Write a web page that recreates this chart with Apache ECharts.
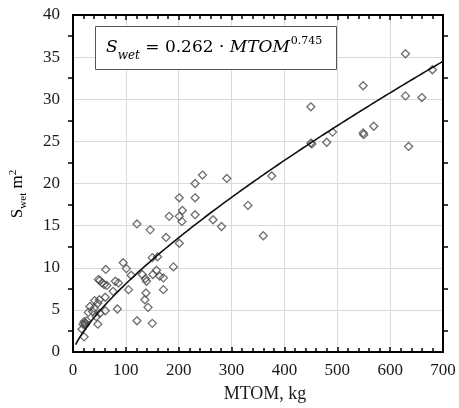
<!DOCTYPE html>
<html>
<head>
<meta charset="utf-8">
<script src="https://cdn.jsdelivr.net/npm/echarts@6/dist/echarts.min.js"></script>
<style>
  html, body { margin: 0; padding: 0; background: #fff; }
  #chart { width: 459px; height: 408px; }
</style>
</head>
<body>
<div id="chart"></div>
<script>
// Maximum take-off mass (kg) of each aircraft
const mtom = [
  17, 21, 19, 21, 24, 26, 23, 29, 32, 37,
  40, 44, 47, 41, 47, 50, 51, 61, 61, 48,
  51, 55, 59, 62, 64, 76, 80, 86, 84, 95,
  101, 110, 105, 121, 121, 131, 137, 139, 138, 136,
  142, 146, 150, 150, 160, 151, 158, 164, 171, 171,
  176, 182, 190, 201, 201, 207, 206, 201, 231, 231,
  245, 231, 265, 281, 291, 331, 360, 376, 450, 450,
  452, 480, 491, 549, 549, 550, 569, 629, 629, 635,
  660, 680
];
// Wetted area (m²) of each aircraft
const swet = [
  2.7, 1.8, 3.3, 3.6, 3.4, 3.7, 3.2, 4.7, 5.4, 4.8,
  5.2, 4.2, 3.3, 6.1, 5.8, 6.2, 4.6, 4.9, 6.5, 8.6,
  8.5, 8.2, 8.0, 9.8, 7.9, 7.2, 8.4, 8.2, 5.1, 10.6,
  9.9, 9.1, 7.4, 3.7, 15.2, 9.2, 8.7, 8.4, 7.0, 6.2,
  5.3, 14.5, 3.4, 11.2, 11.3, 9.2, 9.7, 9.0, 8.8, 7.4,
  13.6, 16.1, 10.1, 12.9, 16.1, 16.8, 15.5, 18.3, 18.3, 20.0,
  21.0, 16.3, 15.7, 14.9, 20.6, 17.4, 13.8, 20.9, 29.1, 24.8,
  24.7, 24.9, 26.1, 31.6, 26.0, 25.8, 26.8, 35.4, 30.4, 24.4,
  30.2, 33.5
];

// Power-law fit: Swet = a · MTOM^b
const fitA = 0.262;
const fitB = 0.745;
const fitStart = 5;
const fitEnd = 700;
const fitStep = 5;

// Axis ranges
const xMin = 0, xMax = 700, xStep = 100;
const yMin = 0, yMax = 40, yStep = 5;

const points = mtom.map((m, i) => [m, swet[i]]);
const fitLine = [];
for (let m = fitStart; m <= fitEnd; m += fitStep) {
  fitLine.push([m, fitA * Math.pow(m, fitB)]);
}

const serif = 'Liberation Serif';
const mathFont = 'DejaVu Serif';
const ink = '#1a1a1a';

const chart = echarts.init(document.getElementById('chart'), null, { renderer: 'canvas' });

const tickCommon = {
  axisLine: { show: true, onZero: false, lineStyle: { color: '#000', width: 2 } },
  axisTick: { show: true, inside: true, length: 5, lineStyle: { color: '#000', width: 1.5 } },
};

chart.setOption({
  animation: false,
  backgroundColor: '#fff',
  grid: { left: 73, right: 16, top: 15, bottom: 56, containLabel: false },
  xAxis: [
    {
      type: 'value', min: xMin, max: xMax, interval: xStep, position: 'bottom',
      ...tickCommon,
      minorTick: { show: true, splitNumber: 5, length: 4, lineStyle: { color: '#000', width: 1.5 } },
      axisLabel: { color: ink, fontFamily: serif, fontSize: 17, margin: 10 },
      splitLine: { show: true, lineStyle: { color: '#dadada', width: 1 } }
    },
    {
      type: 'value', min: xMin, max: xMax, interval: xStep, position: 'top',
      ...tickCommon,
      minorTick: { show: true, splitNumber: 5, length: 4, lineStyle: { color: '#000', width: 1.5 } },
      axisLabel: { show: false },
      splitLine: { show: false }
    }
  ],
  yAxis: [
    {
      type: 'value', min: yMin, max: yMax, interval: yStep, position: 'left',
      ...tickCommon,
      axisTick: { show: false },
      minorTick: { show: true, splitNumber: 2, length: 5, lineStyle: { color: '#000', width: 1.5 } },
      axisLabel: { color: ink, fontFamily: serif, fontSize: 17, margin: 13 },
      splitLine: { show: true, lineStyle: { color: '#dadada', width: 1 } }
    },
    {
      type: 'value', min: yMin, max: yMax, interval: yStep, position: 'right',
      ...tickCommon,
      axisTick: { show: false },
      minorTick: { show: true, splitNumber: 2, length: 5, lineStyle: { color: '#000', width: 1.5 } },
      axisLabel: { show: false },
      splitLine: { show: false }
    }
  ],
  series: [
    {
      type: 'scatter',
      data: points,
      symbol: 'diamond',
      symbolSize: 8,
      itemStyle: { color: 'rgba(255,255,255,0)', borderColor: '#4a4a4a', borderWidth: 1.3 },
      z: 3
    },
    {
      type: 'line',
      data: fitLine,
      showSymbol: false,
      symbol: 'none',
      lineStyle: { color: '#111', width: 1.6 },
      z: 4
    }
  ],
  graphic: [
    {
      type: 'rect',
      shape: { x: 95.5, y: 26.5, width: 241, height: 43 },
      style: { fill: '#fff', stroke: '#555', lineWidth: 1 },
      z: 10
    },
    {
      type: 'text',
      x: 106, y: 48,
      z: 11,
      style: {
        text: '{i|S}{isub|wet}{n| = 0.262 · }{i|MTOM}{sup|0.745}',
        verticalAlign: 'middle',
        rich: {
          i: { fontFamily: mathFont, fontStyle: 'italic', fontSize: 17, color: '#111', lineHeight: 24, verticalAlign: 'middle' },
          n: { fontFamily: mathFont, fontSize: 17, color: '#111', lineHeight: 24, verticalAlign: 'middle' },
          isub: { fontFamily: mathFont, fontStyle: 'italic', fontSize: 12, color: '#111', lineHeight: 12, verticalAlign: 'bottom', padding: [0, 0, -2, 0] },
          sup: { fontFamily: mathFont, fontSize: 11, color: '#111', lineHeight: 11, verticalAlign: 'top', padding: [0, 0, 0, 1] }
        }
      }
    },
    {
      type: 'text',
      x: 265, y: 394,
      style: {
        text: 'MTOM, kg',
        fontFamily: serif, fontSize: 18, fill: ink,
        align: 'center', verticalAlign: 'middle'
      }
    },
    {
      type: 'text',
      x: 18, y: 194,
      rotation: Math.PI / 2,
      style: {
        text: '{n|S}{sub|wet}{n| m}{sup|2}',
        align: 'center', verticalAlign: 'middle',
        rich: {
          n: { fontFamily: serif, fontSize: 17, color: ink, lineHeight: 20, verticalAlign: 'middle' },
          sub: { fontFamily: serif, fontSize: 11, color: ink, lineHeight: 11, verticalAlign: 'bottom', padding: [0, 0, -1, 0] },
          sup: { fontFamily: serif, fontSize: 11, color: ink, lineHeight: 11, verticalAlign: 'top' }
        }
      }
    }
  ]
});
</script>
</body>
</html>
